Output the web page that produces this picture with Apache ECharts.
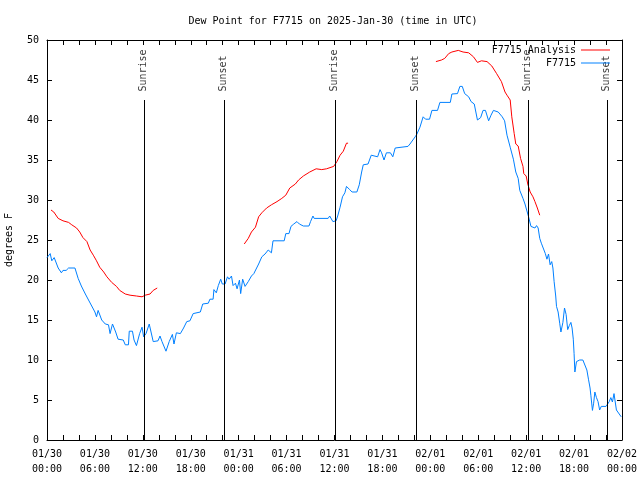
<!DOCTYPE html>
<html>
<head>
<meta charset="utf-8">
<script src="https://cdn.jsdelivr.net/npm/echarts@6/dist/echarts.min.js"></script>
<style>html,body{margin:0;padding:0;background:#fff;}#c{width:640px;height:480px;}</style>
</head>
<body>
<div id="c"></div>
<script>
// hours since 2025-01-30 00:00 UTC
var xTickLabels = ['01/30\n00:00','01/30\n06:00','01/30\n12:00','01/30\n18:00','01/31\n00:00','01/31\n06:00','01/31\n12:00','01/31\n18:00','02/01\n00:00','02/01\n06:00','02/01\n12:00','02/01\n18:00','02/02\n00:00'];

var obsHours = [0.0,0.4,0.6,0.9,1.4,1.8,2.0,2.4,2.7,3.5,3.9,4.3,4.8,5.2,5.6,6.0,6.2,6.4,6.85,7.3,7.7,7.9,8.2,8.6,8.9,9.55,9.8,10.2,10.3,10.7,10.9,11.2,11.6,11.9,12.1,12.4,12.8,13.3,13.9,14.15,14.4,14.9,15.3,15.7,15.9,16.2,16.7,17.1,17.5,17.9,18.3,19.2,19.5,20.2,20.4,20.8,20.9,21.2,21.45,21.75,21.95,22.3,22.6,22.8,23.1,23.3,23.6,23.8,24.1,24.25,24.5,24.8,25.2,25.6,25.9,26.5,26.9,27.3,27.7,27.9,28.1,28.3,29.7,29.9,30.3,30.55,30.9,31.3,31.6,32.1,32.8,33.0,33.3,33.45,35.2,35.4,35.8,36.2,36.4,36.7,37.0,37.3,37.5,37.65,37.9,38.2,38.8,39.1,39.4,39.6,40.2,40.6,40.8,41.4,41.7,41.9,42.2,42.5,43.0,43.3,43.6,45.2,45.45,45.7,46.1,46.3,46.7,47.1,47.4,47.9,48.2,48.9,49.2,50.5,50.7,51.4,51.7,52.0,52.3,52.8,53.1,53.5,53.7,53.9,54.3,54.6,54.9,55.3,55.6,55.9,56.5,56.7,57.0,57.3,57.5,57.6,58.0,58.4,58.7,59.0,59.2,59.6,59.85,60.1,60.3,60.6,61.1,61.3,61.5,61.7,61.9,62.0,62.4,62.6,62.8,63.0,63.2,63.35,63.5,63.7,63.8,64.0,64.2,64.35,64.6,64.8,65.0,65.2,65.4,65.6,65.75,65.9,66.0,66.1,66.3,66.7,67.1,67.3,67.6,67.8,68.0,68.1,68.3,68.45,68.6,68.8,69.0,69.2,69.4,69.6,70.0,70.2,70.4,70.6,70.8,71.0,71.3,71.5,71.9];
var obsValues = [22.8,23.3,22.4,22.8,21.5,20.9,21.2,21.2,21.5,21.5,20.2,19.25,18.25,17.5,16.75,16.0,15.4,16.2,15.0,14.5,14.4,13.3,14.5,13.5,12.6,12.5,11.9,11.9,13.6,13.6,12.5,11.8,13.3,14.1,12.9,13.3,14.5,12.3,12.4,13.0,12.3,11.1,12.3,13.2,12.0,13.4,13.3,14.0,14.8,14.9,15.8,16.0,17.0,17.1,17.6,17.6,18.8,18.4,19.3,20.1,19.5,19.5,20.4,20.1,20.5,19.3,19.6,18.9,20.0,18.3,20.1,19.2,19.8,20.5,20.8,22.0,22.9,23.25,23.75,24.0,23.4,24.9,24.9,25.8,25.8,26.7,27.0,27.3,27.0,26.75,26.75,27.3,28.0,27.7,27.7,28.0,27.3,27.4,28.0,29.1,30.4,30.9,31.7,31.7,31.3,31.0,31.0,31.9,33.5,34.4,34.5,35.6,35.4,35.4,36.3,35.9,35.0,35.9,35.9,35.4,36.5,36.7,37.0,37.0,37.9,38.2,39.1,40.4,40.1,40.1,41.2,41.2,42.2,42.2,43.25,43.3,44.2,44.2,43.3,42.9,42.3,42.0,41.0,40.0,40.3,41.2,41.2,39.9,40.6,41.2,41.0,41.2,40.4,39.9,39.7,38.1,36.6,35.1,33.5,32.7,31.2,30.2,29.5,29.4,27.9,26.7,26.5,26.8,26.5,25.2,24.6,24.8,23.3,22.6,23.25,21.9,22.3,21.5,19.8,18.0,16.7,16.0,14.6,13.5,14.7,16.5,15.7,13.8,14.3,14.7,14.0,12.6,10.8,8.5,9.8,10.0,10.0,9.8,8.75,7.6,6.5,5.6,3.7,4.6,6.0,5.3,4.8,3.75,4.2,4.3,4.2,4.2,4.8,5.3,4.75,5.8,3.75,3.75,2.9];

// null = gap between analysis runs
var anaHours = [0.5,0.85,1.4,2.0,2.7,3.1,3.7,4.1,4.5,5.0,5.4,5.8,6.2,6.6,7.1,7.5,8.1,8.7,9.1,9.8,10.4,11.2,11.9,12.3,12.9,13.3,13.8,
  20,
  24.7,25.2,25.6,26.1,26.5,26.9,27.5,28.1,28.8,29.4,29.9,30.4,31.1,31.5,32.1,32.9,33.7,34.4,35.0,35.9,36.3,36.7,37.1,37.5,37.7,
  44,
  48.7,49.4,49.8,50.3,50.7,51.5,52.1,52.8,53.4,53.9,54.4,55.1,55.7,56.3,56.9,57.35,57.6,58.0,58.2,58.5,58.7,59.0,59.3,59.6,59.7,60.0,60.2,60.5,60.85,61.1,61.4,61.7];
var anaValues = [28.75,28.5,27.7,27.4,27.2,26.9,26.5,26.0,25.3,24.8,23.75,23.1,22.4,21.6,21.0,20.4,19.7,19.2,18.7,18.25,18.1,18.0,17.9,18.1,18.25,18.7,19.0,
  null,
  24.5,25.2,26.0,26.6,27.9,28.4,29.0,29.4,29.8,30.2,30.6,31.5,32.0,32.5,33.0,33.5,33.9,33.8,33.9,34.2,34.8,35.6,36.1,37.1,37.1,
  null,
  47.3,47.5,47.7,48.3,48.5,48.7,48.5,48.4,47.9,47.2,47.4,47.3,46.75,45.8,44.8,43.5,43.1,42.5,40.4,38.3,37.0,36.75,35.2,34.2,33.3,33.0,32.0,31.0,30.4,29.8,29.0,28.1];

var sunHours = [12.18, 22.2, 36.06, 46.2, 60.23, 70.16];
var sunLabels = ['Sunrise','Sunset','Sunrise','Sunset','Sunrise','Sunset'];

var FONT = 'DejaVu Sans Mono';
var SUN_TOP = 42.5;

function pairs(xs, ys){ var out=[]; for (var i=0;i<xs.length;i++) out.push([xs[i], ys[i]]); return out; }

var chart = echarts.init(document.getElementById('c'), null, {renderer:'canvas'});
function axisCommon(extra){
  var base = {
    type:'value',
    axisLine:{show:true, onZero:false, lineStyle:{color:'#000', width:1}},
    axisTick:{show:true, inside:true, length:5, lineStyle:{color:'#000'}},
    splitLine:{show:false}
  };
  return Object.assign(base, extra);
}
chart.setOption({
  animation:false,
  backgroundColor:'#fff',
  title:{
    text:'Dew Point for F7715 on 2025-Jan-30 (time in UTC)',
    left:333, top:16, textAlign:'center', padding:0,
    textStyle:{fontFamily:FONT, fontSize:10, fontWeight:'normal', color:'#000'}
  },
  legend:{
    orient:'vertical', right:30, top:44, align:'right', padding:0,
    itemWidth:29, itemHeight:1, itemGap:1,
    textStyle:{fontFamily:FONT, fontSize:10, color:'#000', lineHeight:12},
    data:[{name:'F7715 Analysis', icon:'rect'},{name:'F7715', icon:'rect'}]
  },
  grid:{left:47, right:18, top:40, bottom:40, containLabel:false, outerBoundsMode:'none'},
  xAxis:[
    axisCommon({
      min:0, max:72, interval:2, position:'bottom',
      axisLabel:{
        margin:7, color:'#000', fontFamily:FONT, fontSize:10, lineHeight:15,
        formatter:function(v){ return (v % 6 === 0) ? xTickLabels[v/6] : ''; }
      }
    }),
    axisCommon({min:0, max:72, interval:2, position:'top', axisLabel:{show:false}})
  ],
  yAxis:[
    axisCommon({
      min:0, max:50, interval:5, position:'left',
      name:'degrees F', nameLocation:'middle', nameGap:33,
      nameTextStyle:{fontFamily:FONT, fontSize:10, color:'#000'},
      axisLabel:{margin:8, color:'#000', fontFamily:FONT, fontSize:10}
    }),
    axisCommon({min:0, max:50, interval:5, position:'right', axisLabel:{show:false}})
  ],
  series:[
    {
      name:'F7715 Analysis', type:'line', data:pairs(anaHours, anaValues),
      showSymbol:false, symbol:'none', connectNulls:false,
      lineStyle:{color:'#ff0000', width:1}, itemStyle:{color:'#ff0000'}, z:3
    },
    {
      name:'F7715', type:'line', data:pairs(obsHours, obsValues),
      showSymbol:false, symbol:'none',
      lineStyle:{color:'#0080ff', width:1}, itemStyle:{color:'#0080ff'}, z:3
    },
    {
      name:'sun', type:'scatter', symbolSize:1, itemStyle:{color:'rgba(0,0,0,0)'}, silent:true, z:2,
      data: sunHours.map(function(h,i){ return {value:[h, SUN_TOP], name:sunLabels[i]}; }),
      label:{
        show:true, formatter:'{b}', rotate:90, position:[0,-8],
        align:'left', verticalAlign:'middle',
        fontFamily:FONT, fontSize:10, color:'#000'
      },
      labelLayout:{hideOverlap:false},
      markLine:{
        silent:true, symbol:'none', animation:false,
        label:{show:false},
        lineStyle:{color:'#000', width:1, type:'solid'},
        data: sunHours.map(function(h){ return [{coord:[h,0]},{coord:[h,SUN_TOP]}]; })
      }
    }
  ]
});
</script>
</body>
</html>
